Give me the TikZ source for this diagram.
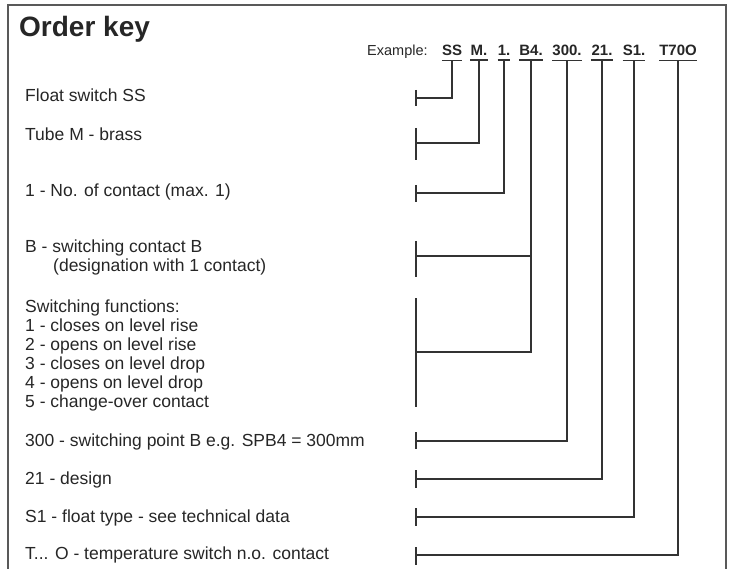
\documentclass[tikz,border=0pt]{standalone}
\usepackage{fontspec}
\setmainfont{Liberation Sans}
\begin{document}
\begin{tikzpicture}[x=1pt,y=-1pt,
  txt/.style={anchor=base west, inner sep=0pt, font=\fontsize{17.5}{19}\selectfont, text=black!85},
  code/.style={anchor=base, inner xsep=0pt, inner ysep=4pt, font=\fontsize{15}{18}\selectfont\bfseries, text=black!85},
  uline/.style={line width=1.6pt, draw=black!80},
  lead/.style={line width=2pt, draw=black!80},
  tickmark/.style={line width=2pt, draw=black!80},
  frame/.style={line width=1.4pt, draw=black!65}]
\useasboundingbox (0,0) rectangle (733,569);
% frame (open at the bottom)
\draw[frame] (8,569) -- (8,5) -- (726,5) -- (726,569);
% title and example
\node[anchor=base west, inner sep=0pt, font=\fontsize{28}{30}\selectfont\bfseries, text=black!85] (title) at (19,37) {Order key};
\node[anchor=base west, inner sep=0pt, font=\fontsize{14.5}{16}\selectfont, text=black!85] (ex) at (367,56) {Example:};
% code parts
\node[code] (ss) at (452,56) {SS};
\node[code] (m) at (479,56) {M.};
\node[code] (one) at (504,56) {1.};
\node[code] (b4) at (531,56) {B4.};
\node[code] (sp) at (567,56) {300.};
\node[code] (des) at (602,56) {21.};
\node[code] (fl) at (634,56) {S1.};
\node[code] (tmp) at (678,56) {T70O};
\foreach \n in {ss,m,one,b4,sp,des,fl,tmp}
  \draw[uline] (\n.south west) -- (\n.south east);
% descriptions
\node[txt] (d1) at (25,102) {Float switch SS};
\node[txt] (d2) at (25,141) {Tube M - brass};
\node[txt] (d3) at (25,197) {1 - No. of contact (max. 1)};
\node[txt] (d4) at (25,253) {B - switching contact B};
\node[txt] (d4b) at (53,272) {(designation with 1 contact)};
\node[txt] (d5) at (25,312) {Switching functions:};
\node[txt] (d5a) at (25,331) {1 - closes on level rise};
\node[txt] (d5b) at (25,350) {2 - opens on level rise};
\node[txt] (d5c) at (25,369) {3 - closes on level drop};
\node[txt] (d5d) at (25,388) {4 - opens on level drop};
\node[txt] (d5e) at (25,407) {5 - change-over contact};
\node[txt] (d6) at (25,446) {300 - switching point B e.g. SPB4 = 300mm};
\node[txt] (d7) at (25,484) {21 - design};
\node[txt] (d8) at (25,522) {S1 - float type - see technical data};
\node[txt] (d9) at (25,559) {T... O - temperature switch n.o. contact};
% tick marks and their connection points
\coordinate (k1) at (416,98);
\coordinate (k2) at (416,143);
\coordinate (k3) at (416,193);
\coordinate (k4) at (416,256);
\coordinate (k5) at (416,352);
\coordinate (k6) at (416,441);
\coordinate (k7) at (416,479);
\coordinate (k8) at (416,517);
\coordinate (k9) at (416,555);
\draw[tickmark] (416,90) -- (416,106);
\draw[tickmark] (416,128) -- (416,160);
\draw[tickmark] (416,185) -- (416,202);
\draw[tickmark] (416,241) -- (416,277);
\draw[tickmark] (416,298) -- (416,407);
\draw[tickmark] (416,432) -- (416,449);
\draw[tickmark] (416,470) -- (416,488);
\draw[tickmark] (416,508) -- (416,526);
\draw[tickmark] (416,547) -- (416,565);
% leaders
\draw[lead] (ss.south) |- (k1);
\draw[lead] (m.south) |- (k2);
\draw[lead] (one.south) |- (k3);
\draw[lead] (b4.south) |- (k5);
\draw[lead] (b4.south |- k4) -- (k4);
\draw[lead] (sp.south) |- (k6);
\draw[lead] (des.south) |- (k7);
\draw[lead] (fl.south) |- (k8);
\draw[lead] (tmp.south) |- (k9);
\end{tikzpicture}
\end{document}
